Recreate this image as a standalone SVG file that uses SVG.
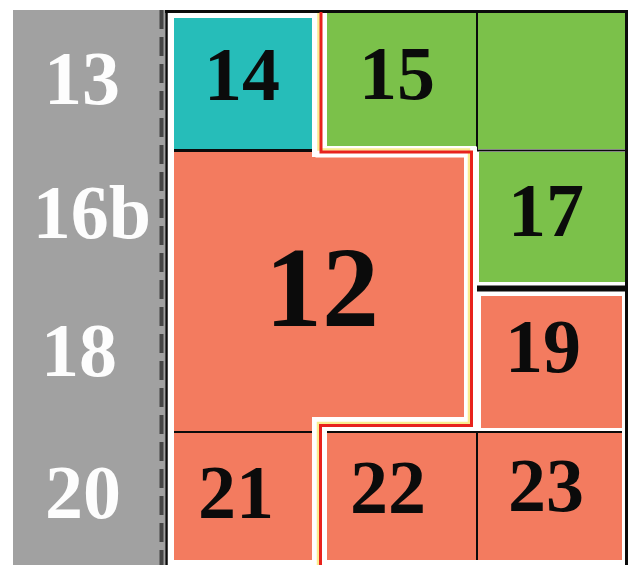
<svg xmlns="http://www.w3.org/2000/svg" width="630" height="565" viewBox="0 0 630 565">
  <style>
    .lbl { font-family: "Liberation Serif", "Times New Roman", serif; font-weight: bold; text-anchor: middle; fill: #0b0b0b; }
    .side { font-family: "Liberation Serif", "Times New Roman", serif; font-weight: bold; text-anchor: middle; fill: #fdfdfd; font-size: 76px; }
    .n { font-size: 76px; }
    .salmon { fill: #f37b5f; }
    .green { fill: #7bc14a; }
    .cyan { fill: #26bdb9; }
    .blk { stroke: #0b0b0b; fill: none; }
  </style>
  <rect x="0" y="0" width="630" height="565" fill="#ffffff"/>

  <!-- left gray column -->
  <g id="side-column">
    <rect x="13" y="10" width="152" height="555" fill="#a1a1a1"/>
    <line x1="161.5" y1="10" x2="161.5" y2="565" stroke="#454545" stroke-width="4" stroke-dasharray="19 8"/>
    <text class="side" x="82" y="104">13</text>
    <text class="side" x="92" y="238">16b</text>
    <text class="side" x="79" y="376">18</text>
    <text class="side" x="83" y="518">20</text>
  </g>

  <!-- outer frame -->
  <g id="frame" class="blk">
    <line x1="166.5" y1="10" x2="166.5" y2="565" stroke-width="2.5"/>
    <line x1="165" y1="11.5" x2="628" y2="11.5" stroke-width="3"/>
    <line x1="626.5" y1="10" x2="626.5" y2="565" stroke-width="3"/>
  </g>

  <g id="node-14">
    <rect class="cyan" x="174" y="18" width="138" height="131"/>
    <line class="blk" x1="174" y1="150.5" x2="312" y2="150.5" stroke-width="3"/>
    <text class="lbl n" x="242" y="100">14</text>
  </g>

  <g id="node-15">
    <rect class="green" x="327" y="13" width="149" height="133"/>
    <text class="lbl n" x="397" y="99">15</text>
  </g>

  <g id="node-16">
    <rect class="green" x="478" y="13" width="147" height="136"/>
    <line class="blk" x1="477" y1="13" x2="477" y2="150" stroke-width="2"/>
    <line class="blk" x1="476" y1="150.5" x2="625" y2="150.5" stroke-width="2"/>
  </g>

  <g id="node-17">
    <rect class="green" x="479" y="152" width="146" height="130"/>
    <line class="blk" x1="477" y1="288.5" x2="625" y2="288.5" stroke-width="6"/>
    <text class="lbl n" x="546" y="236">17</text>
  </g>

  <g id="node-12">
    <polygon class="salmon" points="174,152 312,152 312,157 464,157 464,417 312,417 312,431 174,431"/>
    <text class="lbl" x="322" y="326" font-size="114">12</text>
  </g>

  <g id="node-19">
    <rect class="salmon" x="481" y="296" width="141" height="132"/>
    <text class="lbl n" x="543" y="372">19</text>
  </g>

  <g id="node-21">
    <line class="blk" x1="174" y1="432" x2="312" y2="432" stroke-width="2"/>
    <rect class="salmon" x="174" y="433" width="138" height="127"/>
    <text class="lbl n" x="236" y="518">21</text>
  </g>

  <g id="node-22">
    <line class="blk" x1="327" y1="432" x2="622" y2="432" stroke-width="2"/>
    <rect class="salmon" x="327" y="433" width="149" height="127"/>
    <text class="lbl n" x="388" y="513">22</text>
  </g>

  <g id="node-23">
    <rect class="salmon" x="478" y="433" width="144" height="127"/>
    <line class="blk" x1="477" y1="432" x2="477" y2="560" stroke-width="2"/>
    <text class="lbl n" x="546" y="511">23</text>
  </g>

  <!-- boundary line -->
  <g id="connectors" fill="none" stroke-linejoin="miter">
    <path d="M321 13 V152 H471.5 V425.5 H320.5 V565" stroke="#ffffff" stroke-width="11"/>
    <path d="M318.5 13 V149.5 H469 V423 H318 V565" stroke="#f9ec8f" stroke-width="2.5"/>
    <path d="M321 12 V152 H471.5 V425.5 H320.5 V565" stroke="#e8221d" stroke-width="3"/>
  </g>
</svg>
